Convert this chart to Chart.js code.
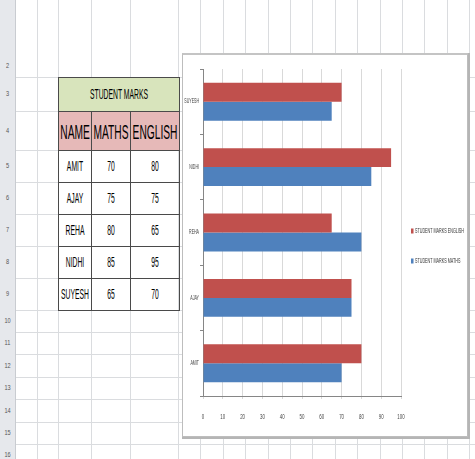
<!DOCTYPE html>
<html>
<head>
<meta charset="utf-8">
<script src="https://cdn.jsdelivr.net/npm/chart.js@4/dist/chart.umd.min.js"></script>
<style>
  html, body { margin: 0; padding: 0; background: #fff; }
  #sheet { position: relative; width: 475px; height: 459px; overflow: hidden; background: #fff;
           font-family: 'Liberation Sans', Arial, sans-serif; }
  .vline { position: absolute; top: 0; width: 1px; height: 459px; background: #dadcdf; }
  .hline { position: absolute; left: 0; height: 1px; width: 475px; background: #dadcdf; }
  #rowhead { position: absolute; left: 0; top: 0; width: 15px; height: 459px; background: #e6e8ec; border-right: 1px solid #c9ccd1; }
  .rownum { position: absolute; left: 0; width: 15px; text-align: center; font-size: 8px; color: #555; transform: scaleX(0.7); }
  table { position: absolute; left: 58px; top: 77px; border-collapse: collapse; table-layout: fixed; width: 121px; }
  td { border: 1px solid #4a4a4a; text-align: center; padding: 0; color: #000; overflow: visible; white-space: nowrap; }
  td span { display: block; width: 200%; margin-left: -50%; text-align: center; transform: scale(0.68, 1.4); }
  .title td { background: #d8e4bc; height: 33px; font-size: 10px; }
  .head td { background: #e6b9b8; height: 38px; font-size: 15px; }
  .data td { height: 31px; font-size: 10px; }
  #chartBox { position: absolute; left: 182px; top: 53px; width: 286px; height: 384px; background: #fff;
              border: 1px solid #bdbdbd; border-top: 2px solid #c4c4c4; box-sizing: border-box; box-shadow: 1px 1px 0 1px #b5b5b5; }
  #chartBox canvas { position: absolute; left: 0; top: -1px; }
</style>
</head>
<body>
<div id="sheet">
  <div id="rowhead"></div>
  <table id="marks">
    <colgroup><col style="width:33px"><col style="width:39px"><col style="width:49px"></colgroup>
    <tr class="title"><td colspan="3"><span>STUDENT MARKS</span></td></tr>
    <tr class="head"><td><span>NAME</span></td><td><span>MATHS</span></td><td><span>ENGLISH</span></td></tr>
  </table>
  <div id="chartBox"><canvas id="marksChart" width="284" height="382"></canvas></div>
</div>
<script>
// datos de la hoja
const students = ['AMIT', 'AJAY', 'REHA', 'NIDHI', 'SUYESH'];
const maths = [70, 75, 80, 85, 65];
const english = [80, 75, 65, 95, 70];
const xTicks = [0, 10, 20, 30, 40, 50, 60, 70, 80, 90, 100];

const rowLines = [77, 111, 150, 182, 214, 246, 278, 310, 332, 354, 377, 399, 422, 444];
const rowLabels = [2, 3, 4, 5, 6, 7, 8, 9, 10, 11, 12, 13, 14, 15, 16];
const colLines = [37, 58, 91, 130, 178, 200, 223, 245, 268, 290, 312, 335, 357, 380, 402, 424, 447, 469];

const FONT = "'Liberation Sans', Arial, sans-serif";

// Función para dibujar la cuadrícula de la hoja
function buildSheet() {
    const sheet = document.getElementById('sheet');
    colLines.forEach(x => {
        const d = document.createElement('div');
        d.className = 'vline';
        d.style.left = x + 'px';
        sheet.insertBefore(d, sheet.firstChild);
    });
    rowLines.forEach(y => {
        const d = document.createElement('div');
        d.className = 'hline';
        d.style.top = y + 'px';
        sheet.insertBefore(d, sheet.firstChild);
    });
    const head = document.getElementById('rowhead');
    let prev = 54;
    rowLabels.forEach((n, i) => {
        const next = rowLines[i] !== undefined ? rowLines[i] : prev + 22;
        const s = document.createElement('div');
        s.className = 'rownum';
        s.style.top = ((prev + next) / 2 - 5) + 'px';
        s.textContent = n;
        head.appendChild(s);
        prev = next;
    });

    const table = document.getElementById('marks');
    students.forEach((name, i) => {
        const tr = document.createElement('tr');
        tr.className = 'data';
        [name, maths[i], english[i]].forEach(v => {
            const td = document.createElement('td');
            td.innerHTML = '<span>' + v + '</span>';
            tr.appendChild(td);
        });
        table.appendChild(tr);
    });
}

// texto estrecho (Excel comprime las etiquetas)
function narrowText(ctx, text, x, y, align, sx) {
    ctx.save();
    ctx.translate(x, y);
    ctx.scale(sx, 1);
    ctx.textAlign = align;
    ctx.fillText(text, 0, 0);
    ctx.restore();
}

// etiquetas de ejes y leyenda a la derecha, como en Excel
const excelLabels = {
    id: 'excelLabels',
    afterDraw(chart) {
        const ctx = chart.ctx;
        const xs = chart.scales.x;
        const ys = chart.scales.y;
        ctx.save();
        ctx.fillStyle = '#444';
        ctx.textBaseline = 'middle';

        ctx.font = '8px ' + FONT;
        xs.ticks.forEach(t => {
            narrowText(ctx, String(t.value), xs.getPixelForValue(t.value), xs.top + 21, 'center', 0.55);
        });

        ctx.font = '6.5px ' + FONT;
        chart.data.labels.forEach((lab, i) => {
            narrowText(ctx, lab, ys.right - 4, ys.getPixelForValue(i), 'right', 0.55);
        });

        chart.data.datasets.forEach((ds, i) => {
            const y = 177 + i * 30;
            ctx.fillStyle = ds.backgroundColor;
            ctx.fillRect(228, y - 2.5, 2.5, 5);
            ctx.fillStyle = '#333';
            narrowText(ctx, ds.label, 232, y, 'left', 0.57);
        });
        ctx.restore();
    }
};

function initChart() {
    const labels = students.slice().reverse();
    const canvas = document.getElementById('marksChart');
    new Chart(canvas.getContext('2d'), {
        type: 'bar',
        data: {
            labels: labels,
            datasets: [
                {
                    label: 'STUDENT MARKS ENGLISH',
                    data: english.slice().reverse(),
                    backgroundColor: '#C0504D'
                },
                {
                    label: 'STUDENT MARKS MATHS',
                    data: maths.slice().reverse(),
                    backgroundColor: '#4F81BD'
                }
            ]
        },
        options: {
            indexAxis: 'y',
            responsive: false,
            animation: false,
            categoryPercentage: 0.58,
            barPercentage: 1,
            layout: { padding: { top: 15, right: 66, left: 0, bottom: 0 } },
            plugins: {
                legend: { display: false },
                tooltip: { enabled: false }
            },
            scales: {
                x: {
                    min: 0,
                    max: 100,
                    afterBuildTicks: scale => { scale.ticks = xTicks.map(v => ({ value: v })); },
                    grid: { color: '#d9d9d9', tickLength: 3 },
                    border: { color: '#868686' },
                    ticks: { display: false },
                    afterFit: scale => { scale.height = 40; }
                },
                y: {
                    grid: { drawOnChartArea: false, tickLength: 3, color: '#868686' },
                    border: { color: '#868686' },
                    ticks: { display: false },
                    afterFit: scale => { scale.width = 20; }
                }
            }
        },
        plugins: [excelLabels]
    });
}

document.addEventListener('DOMContentLoaded', () => {
    buildSheet();
    initChart();
});
</script>
</body>
</html>
